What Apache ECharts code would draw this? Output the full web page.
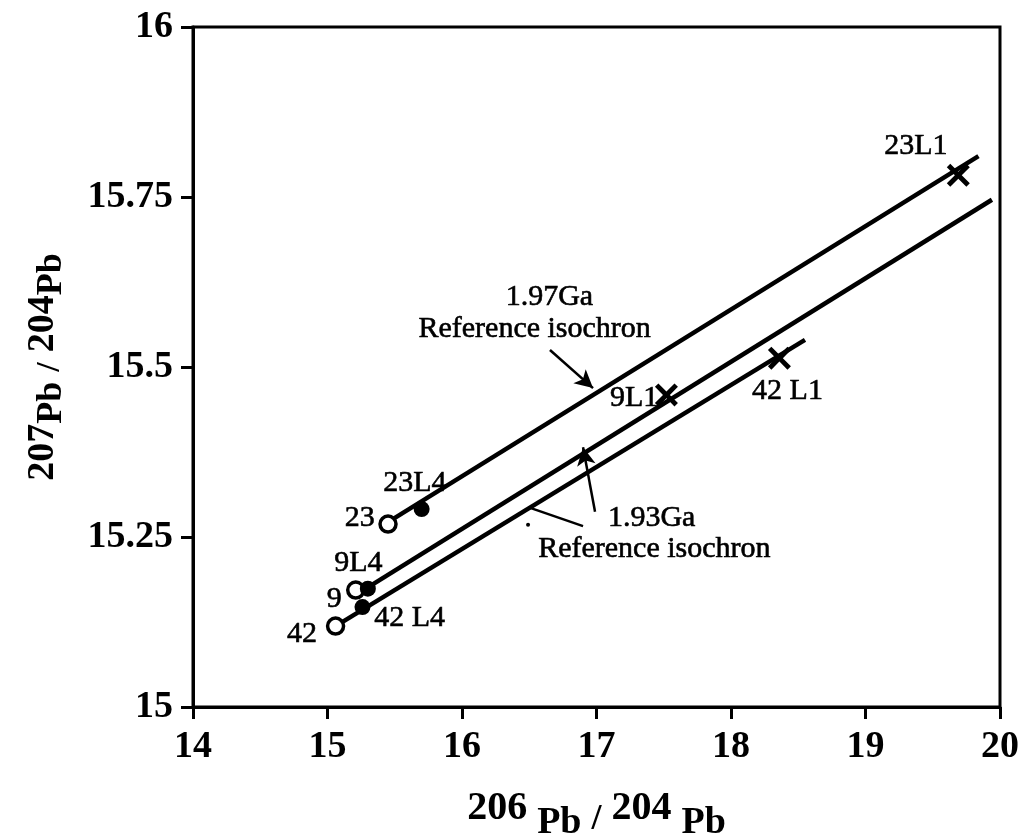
<!DOCTYPE html>
<html>
<head>
<meta charset="utf-8">
<script src="https://cdn.jsdelivr.net/npm/echarts@6/dist/echarts.min.js"></script>
<style>
html,body{margin:0;padding:0;background:#fff;}
#chart{width:1023px;height:836px;}
</style>
</head>
<body>
<div id="chart"></div>
<script>
// ---- data ----
const xTicks = [14, 15, 16, 17, 18, 19, 20];
const yTicks = [15, 15.25, 15.5, 15.75, 16];

// open circles (whole rock)
const openNames = ['23', '9', '42'];
const openX = [15.45, 15.21, 15.06];
const openY = [15.269, 15.172, 15.119];

// filled circles (L4 leachates)
const filledNames = ['23L4', '9L4', '42 L4'];
const filledX = [15.70, 15.30, 15.26];
const filledY = [15.291, 15.174, 15.147];

// crosses (L1 leachates)
const crossNames = ['23L1', '9L1', '42 L1'];
const crossX = [19.69, 17.52, 18.36];
const crossY = [15.782, 15.459, 15.513];

// isochron lines (endpoints)
const line23X = [15.45, 19.84];
const line23Y = [15.272, 15.810];
const line9X = [15.30, 19.94];
const line9Y = [15.176, 15.746];
const line42X = [15.06, 18.55];
const line42Y = [15.119, 15.540];

// text annotations
const annoText = ['23L1', '23L4', '23', '9L4', '9', '42', '42 L4', '9L1', '42 L1',
  '1.97Ga', 'Reference isochron', '1.93Ga', 'Reference isochron'];
const annoX = [19.375, 15.65, 15.24, 15.23, 15.05, 14.81, 15.61, 17.28, 18.42,
  16.65, 16.54, 17.41, 17.43];
const annoY = [15.828, 15.332, 15.281, 15.215, 15.162, 15.110, 15.134, 15.457, 15.468,
  15.606, 15.559, 15.281, 15.235];

// pointer arrows
const arrowFromX = [16.654, 16.989];
const arrowFromY = [15.525, 15.287];
const arrowToX = [16.974, 16.900];
const arrowToY = [15.469, 15.382];
// pointer without head
const ptrFromX = [16.900];
const ptrFromY = [15.266];
const ptrToX = [16.491];
const ptrToY = [15.294];
// stray dot
const dotX = [16.491];
const dotY = [15.268];

// ---- chart ----
const serif = "'Liberation Serif','Times New Roman',serif";
const zip = (xs, ys) => xs.map((x, i) => [x, ys[i]]);

const chart = echarts.init(document.getElementById('chart'), null, {renderer: 'canvas'});

const lineStyle = {color: '#000', width: 4.5};
function lineSeries(xs, ys) {
  return {
    type: 'line', data: zip(xs, ys), showSymbol: false, symbol: 'none',
    lineStyle: lineStyle, z: 2, silent: true
  };
}

const crossPath = 'path://M0,3L3,0L10,7L17,0L20,3L13,10L20,17L17,20L10,13L3,20L0,17L7,10Z';

const markData = arrowFromX.map((x, i) => [
  {coord: [x, arrowFromY[i]]},
  {coord: [arrowToX[i], arrowToY[i]]}
]).concat(ptrFromX.map((x, i) => [
  {coord: [x, ptrFromY[i]], symbol: 'none'},
  {coord: [ptrToX[i], ptrToY[i]], symbol: 'none'}
]));

function titleRich(numPad, pbPad, size, gap) {
  return {
    n: {fontSize: size + 2, fontFamily: serif, fontWeight: 'bold', color: '#000', padding: [0, 0, numPad, 0]},
    p: {fontSize: size, fontFamily: serif, fontWeight: 'bold', color: '#000', padding: [pbPad, 0, 0, 0]},
    s: {fontSize: size - 2, fontFamily: serif, fontWeight: 'bold', color: '#000', padding: [pbPad / 2, 10, 0, 10]},
    g: {fontSize: size, width: gap, padding: [0, 0, 0, 0]}
  };
}

chart.setOption({
  animation: false,
  backgroundColor: '#fff',
  grid: {left: 193, right: 23, top: 27, bottom: 129, show: true, borderColor: '#000', borderWidth: 3,
    containLabel: false, outerBoundsMode: 'none'},
  xAxis: {
    type: 'value', min: xTicks[0], max: xTicks[xTicks.length - 1], interval: 1,
    axisLine: {show: true, onZero: false, lineStyle: {color: '#000', width: 3}},
    axisTick: {show: true, inside: false, length: 12, lineStyle: {color: '#000', width: 3}},
    splitLine: {show: false},
    axisLabel: {color: '#000', fontFamily: serif, fontWeight: 'bold', fontSize: 38, margin: 21},
    name: '{n|206}{g|}{p|Pb}{s|/}{n|204}{g|}{p|Pb}',
    nameLocation: 'middle', nameGap: 82,
    nameTextStyle: {color: '#000', fontFamily: serif, fontWeight: 'bold', rich: titleRich(14, 14, 38, 10)}
  },
  yAxis: {
    type: 'value', min: yTicks[0], max: yTicks[yTicks.length - 1], interval: 0.25,
    axisLine: {show: true, onZero: false, lineStyle: {color: '#000', width: 3}},
    axisTick: {show: true, inside: false, length: 12, lineStyle: {color: '#000', width: 3}},
    splitLine: {show: false},
    axisLabel: {color: '#000', fontFamily: serif, fontWeight: 'bold', fontSize: 38, margin: 20,
      formatter: v => String(yTicks.find(t => Math.abs(t - v) < 1e-9) ?? v)},
    name: '{n|207}{p|Pb}{s|/}{n|204}{p|Pb}',
    nameLocation: 'middle', nameGap: 122, nameRotate: 90,
    nameTextStyle: {color: '#000', fontFamily: serif, fontWeight: 'bold', rich: titleRich(9, 9, 36, 0)}
  },
  series: [
    lineSeries(line23X, line23Y),
    lineSeries(line9X, line9Y),
    lineSeries(line42X, line42Y),
    {
      type: 'scatter', name: 'whole rock', data: zip(openX, openY).map((v, i) => ({name: openNames[i], value: v})),
      symbol: 'circle', symbolSize: 16, z: 5,
      itemStyle: {color: '#fff', borderColor: '#000', borderWidth: 3.5, opacity: 1}
    },
    {
      type: 'scatter', name: 'L4', data: zip(filledX, filledY).map((v, i) => ({name: filledNames[i], value: v})),
      symbol: 'circle', symbolSize: 16, z: 6,
      itemStyle: {color: '#000', opacity: 1}
    },
    {
      type: 'scatter', name: 'L1', data: zip(crossX, crossY).map((v, i) => ({name: crossNames[i], value: v})),
      symbol: crossPath, symbolSize: 23, z: 6,
      itemStyle: {color: '#000', opacity: 1}
    },
    {
      type: 'scatter', name: 'dot', data: zip(dotX, dotY), symbol: 'circle', symbolSize: 4, z: 6,
      itemStyle: {color: '#000', opacity: 1}
    },
    {
      type: 'scatter', name: 'labels', silent: true, z: 10,
      data: zip(annoX, annoY).map((v, i) => ({name: annoText[i], value: v})),
      symbolSize: 0,
      itemStyle: {color: '#000', opacity: 1},
      label: {show: true, position: 'inside', offset: [0, 2], formatter: '{b}', color: '#000', opacity: 1,
        fontFamily: serif, fontSize: 30, fontWeight: 'normal',
        textBorderColor: '#000', textBorderWidth: 0.6},
      markLine: {
        silent: true, symbol: ['none', 'arrow'], symbolSize: [14, 18],
        label: {show: false},
        lineStyle: {color: '#000', width: 2.5, type: 'solid', opacity: 1},
        emphasis: {disabled: true},
        data: markData
      }
    }
  ]
});
</script>
</body>
</html>
